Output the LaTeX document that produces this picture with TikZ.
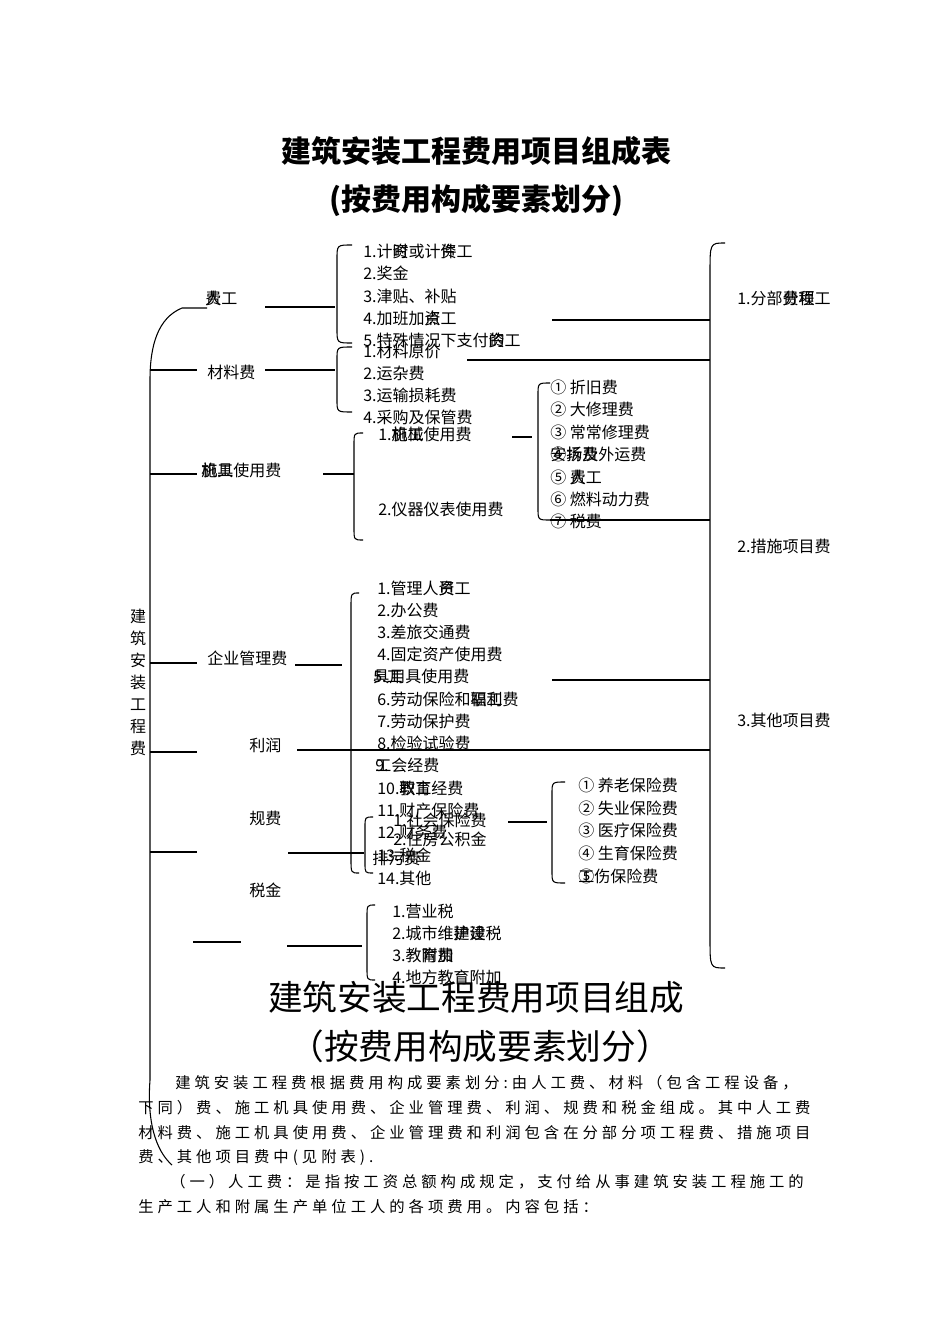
\documentclass[tikz,border=0pt]{standalone}
\usepackage{fontspec}
\setmainfont{Noto Sans CJK SC}
\newfontfamily\parafont[LetterSpace=26]{Noto Sans CJK SC}
\usetikzlibrary{positioning}
% two glyphs printed on the same spot
\newcommand{\ov}[2]{\rlap{#1}#2}
% bracket: spine x, tip x, top y, bottom y, bend
\newcommand{\bkt}[5]{%
  \draw[brk] (#2,#3) .. controls (#1,#3) .. (#1,{#3+#5}) -- (#1,{#4-#5}) .. controls (#1,#4) .. (#2,#4);}

\begin{document}
\begin{tikzpicture}[
  x=0.75pt, y=-0.75pt,
  item/.style={anchor=west, inner sep=0pt, font=\fontsize{12}{14}\selectfont},
  cat/.style={anchor=west, inner sep=0pt, font=\fontsize{12}{14}\selectfont},
  rlab/.style={anchor=west, inner sep=0pt, font=\fontsize{12}{14}\selectfont},
  ttl/.style={inner sep=0pt, font=\fontsize{22.5}{26}\selectfont\bfseries},
  bigttl/.style={inner sep=0pt, font=\fontsize{26}{30}\selectfont},
  para/.style={anchor=west, inner sep=0pt, font=\fontsize{11.5}{14}\parafont},
  ln/.style={line width=0.8pt},
  brk/.style={line width=0.8pt}
]
\useasboundingbox (0,0) rectangle (950,1344);

% titles
\node[ttl] (ti1) at (476,151) {建筑安装工程费用项目组成表};
\node[ttl] (ti2) at (476,200) {(按费用构成要素划分)};

% root and categories
\node[item, anchor=center, align=center, font=\fontsize{12}{16.5}\selectfont] (root) at (138,682)
  {建\\筑\\安\\装\\工\\程\\费};
\node[cat] (rg) at (205,298) {\ov{人}{费}工};
\node[cat] (cl) at (207,372) {材料费};
\node[cat] (jj) at (201,470) {\ov{施}{机}\ov{工}{具}使用费};
\node[cat] (qy) at (207,658) {企业管理费};
\node[cat] (lr) at (249,745) {利润};
\node[cat] (gf) at (249,818) {规费};
\node[cat] (sj) at (249,890) {税金};

% spine
\draw[ln] (207,308) -- (182,308) .. controls (158,318) and (150,345) .. (150,380)
  -- (150,1080) .. controls (147,1120) and (155,1150) .. (172,1165);
\foreach \y in {370,474,663,752,852}
  \draw[ln] (150,\y) -- (197,\y);
\draw[ln] (193,942) -- (241,942);

% lines from categories to their brackets
\draw[ln] (265,307) -- (335,307);
\draw[ln] (265,370) -- (335,370);
\draw[ln] (323,474) -- (354,474);
\draw[ln] (295,665) -- (342,665);
\draw[ln] (297,750) -- (710,750);
\draw[ln] (288,853) -- (364,853);
\draw[ln] (287,946) -- (362,946);

% labour items
\bkt{337}{352}{245}{343}{14}
\node[item] (a1) at (363,251) {1.计\ov{时}{资}或计\ov{件}{资}工};
\node[item] (a2) at (363,273) {2.奖金};
\node[item] (a3) at (363,296) {3.津贴、补贴};
\node[item] (a4) at (363,318) {4.加班加\ov{点}{资}工};
\node[item] (a5) at (363,340) {5.特殊情况下支付\ov{的}{资}工};

% material items
\bkt{337}{352}{347}{412}{12}
\node[item] (m1) at (363,351) {1.材料原价};
\node[item] (m2) at (363,373) {2.运杂费};
\node[item] (m3) at (363,395) {3.运输损耗费};
\node[item] (m4) at (363,417) {4.采购及保管费};

% machine items
\bkt{354}{363}{433}{540}{12}
\node[item] (j1) at (378,434) {1.\ov{施}{机}\ov{工}{械}使用费};
\node[item] (j2) at (378,509) {2.仪器仪表使用费};
\draw[ln] (512,437) -- (532,437);

\bkt{538}{550}{383}{520}{12}
\node[item] (k1) at (550,387) {① 折旧费};
\node[item] (k2) at (550,409) {② 大修理费};
\node[item] (k3) at (550,432) {③ 常常修理费};
\node[item] (k4) at (550,454) {\ov{④}{安}\ov{拆}{场}\ov{费}{及}外运费};
\node[item] (k5) at (550,477) {⑤ \ov{人}{费}工};
\node[item] (k6) at (550,499) {⑥ 燃料动力费};
\node[item] (k7) at (550,521) {⑦ 税费};

% management items
\bkt{351}{359}{593}{873}{14}
\node[item] (q1) at (377,588) {1.管理人\ov{员}{资}工};
\node[item] (q2) at (377,610) {2.办公费};
\node[item] (q3) at (377,632) {3.差旅交通费};
\node[item] (q4) at (377,654) {4.固定资产使用费};
\node[item] (q5) at (373,676) {\ov{5.工}{具用}具使用费};
\node[item] (q6) at (377,699) {6.劳动保险和\ov{职工}{福利}费};
\node[item] (q7) at (377,721) {7.劳动保护费};
\node[item] (q8) at (377,743) {8.检验试验费};
\node[item] (q9) at (375,765) {\ov{9.}{工}会经费};
\node[item] (q10) at (377,788) {10.\ov{职工}{教育}经费};
\node[item] (q11) at (377,810) {11.财产保险费};
\node[item] (q12) at (377,832) {12.财务费};
\node[item] (q13) at (377,855) {13.税金};
\node[item] (q14) at (377,878) {14.其他};

% fees items
\bkt{365}{373}{817}{873}{10}
\node[item] (g1) at (393,820) {1.社会保险费};
\node[item] (g2) at (393,839) {2.住房公积金};
\node[item] (g3) at (372,858) {排污费};
\draw[ln] (508,822) -- (547,822);

\bkt{552}{565}{782}{883}{12}
\node[item] (s1) at (578,785) {① 养老保险费};
\node[item] (s2) at (578,808) {② 失业保险费};
\node[item] (s3) at (578,830) {③ 医疗保险费};
\node[item] (s4) at (578,853) {④ 生育保险费};
\node[item] (s5) at (578,876) {\ov{⑤}{工}伤保险费};

% tax items
\bkt{367}{375}{905}{980}{12}
\node[item] (t1) at (392,911) {1.营业税};
\node[item] (t2) at (392,933) {2.城市维\ov{护}{建}\ov{建}{设}税};
\node[item] (t3) at (392,955) {3.教\ov{育费}{附加}};
\node[item] (t4) at (392,977) {4.地方教育附加};

% right bracket
\bkt{710}{725}{243}{968}{30}
\foreach \a/\y in {552/320,467/360,550/520,552/680}
  \draw[ln] (\a,\y) -- (710,\y);
\node[rlab] (r1) at (737,298) {1.分部\ov{分}{费}\ov{项}{程}工};
\node[rlab] (r2) at (737,546) {2.措施项目费};
\node[rlab] (r3) at (737,720) {3.其他项目费};

% lower title and text
\node[bigttl] (bt1) at (476,997) {建筑安装工程费用项目组成};
\node[bigttl] (bt2) at (480,1046) {（按费用构成要素划分）};
\node[para] (p1) at (175,1083) {建筑安装工程费根据费用构成要素划分:由人工费、材料（包含工程设备，};
\node[para] (p2) at (138,1108) {下同）费、施工机具使用费、企业管理费、利润、规费和税金组成。其中人工费};
\node[para] (p3) at (138,1133) {材料费、施工机具使用费、企业管理费和利润包含在分部分项工程费、措施项目};
\node[para] (p4) at (138,1158) {费、其他项目费中(见附表).};
\node[para] (p5) at (170,1182) {（一）人工费：是指按工资总额构成规定，支付给从事建筑安装工程施工的};
\node[para] (p6) at (138,1207) {生产工人和附属生产单位工人的各项费用。内容包括：};
\end{tikzpicture}
\end{document}
